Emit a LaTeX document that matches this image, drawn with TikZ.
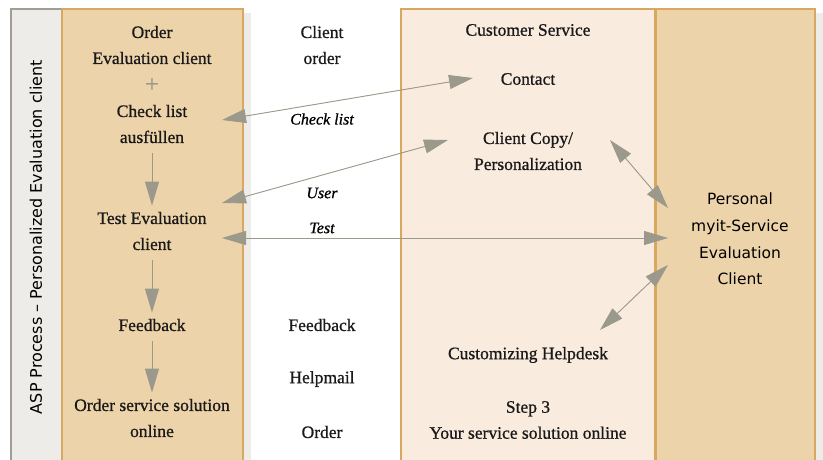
\documentclass[tikz,border=0pt]{standalone}
\usepackage{fontspec}
\setmainfont{Liberation Serif}[FakeBold=0.8]
\setsansfont{DejaVu Sans}
\usetikzlibrary{arrows.meta,calc}
\definecolor{tanfill}{HTML}{EDD3AA}
\definecolor{tanline}{HTML}{D9A860}
\definecolor{csfill}{HTML}{F9ECDF}
\definecolor{stripfill}{HTML}{EDECE8}
\definecolor{stripline}{HTML}{A09E94}
\definecolor{pfeilgrau}{HTML}{9B998C}
\tikzset{
>={Triangle[length=24pt,width=14pt]},
testo/.style={font=\fontsize{17.5}{26}\selectfont,align=center,inner sep=0pt,text=black!90},
etichetta/.style={font=\fontsize{16}{18}\selectfont\itshape,inner sep=0pt},
sans/.style={font=\sffamily\fontsize{15.5}{26.6}\selectfont,align=center,inner sep=0pt},
colonna/.style={fill=tanfill,draw=tanline,line width=1.5pt},
freccia/.style={<->,draw=pfeilgrau,fill=pfeilgrau,line width=0.9pt},
giu/.style={->,draw=pfeilgrau,fill=pfeilgrau,line width=0.9pt,shorten <=10pt,shorten >=6pt}}

\begin{document}
\begin{tikzpicture}[x=1pt,y=-1pt]
\useasboundingbox (0,0) rectangle (823,459);

\fill[stripfill] (243,13) rectangle (251,462);
\fill[stripfill] (815,13) rectangle (823,462);
\draw[fill=stripfill,draw=stripline,line width=1.5pt] (11,9) rectangle (62,462);
\draw[colonna] (62,9) rectangle (243,462);
\draw[colonna,fill=csfill] (401,9) rectangle (655,462);
\draw[colonna] (655,9) rectangle (815,462);
\draw[tanline,line width=3pt] (655,9) -- (655,462);

\node[sans,rotate=90,font=\sffamily\fontsize{16}{18}\selectfont] (asp) at (36,237) {ASP Process -- Personalized Evaluation client};

\node[testo] (ord) at (152,45) {Order\\Evaluation client};
\node[testo,text=pfeilgrau,font=\fontsize{24}{24}\selectfont] (plus) at (152,85) {+};
\node[testo] (chk) at (152,124) {Check list\\ausfüllen};
\node[testo] (tst) at (152,231) {Test Evaluation\\client};
\node[testo] (fb) at (152,325) {Feedback};
\node[testo] (oss) at (152,418) {Order service solution\\online};

\node[testo] (cord) at (322,45) {Client\\order};
\node[etichetta] (lchk) at (322,119) {Check list};
\node[etichetta] (lusr) at (322,193) {User};
\node[etichetta] (ltst) at (322,228) {Test};
\node[testo] (fbm) at (322,325) {Feedback};
\node[testo] (hm) at (322,379) {Helpmail};
\node[testo] (ordm) at (322,432) {Order};

\node[testo] (cs) at (528,30) {Customer Service};
\node[testo] (cnt) at (528,79) {Contact};
\node[testo] (ccp) at (528,151) {Client Copy/\\Personalization};
\node[testo] (hd) at (528,355) {Customizing Helpdesk};
\node[testo] (st3) at (528,420) {Step 3\\Your service solution online};

\node[sans] (pers) at (740,239) {Personal\\myit-Service\\Evaluation\\Client};

\coordinate (chkL) at (222,120);
\coordinate (cntL) at (473,78);
\coordinate (usrL) at (222,203);
\coordinate (ccpL) at (448,140);
\coordinate (tstL) at (222,238);
\coordinate (tstR) at (668,238);
\coordinate (ccpR) at (610,140);
\coordinate (persA) at (668,208);
\coordinate (hdR) at (600,330);
\coordinate (persB) at (668,265);

\draw[giu] (chk) -- (tst);
\draw[giu] (tst) -- (fb);
\draw[giu] (fb) -- (oss);

\draw[freccia] (chkL) -- (cntL);
\draw[freccia] (usrL) -- (ccpL);
\draw[freccia] (tstL) -- (tstR);
\draw[freccia] (ccpR) -- (persA);
\draw[freccia] (hdR) -- (persB);

\end{tikzpicture}
\end{document}
